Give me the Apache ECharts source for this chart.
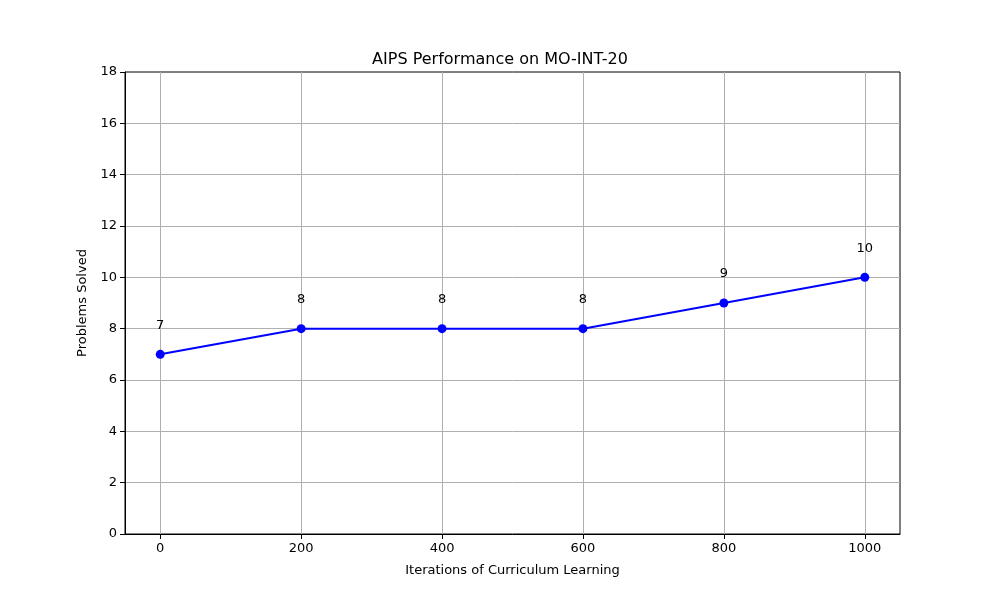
<!DOCTYPE html>
<html><head><meta charset="utf-8">
<script src="https://cdn.jsdelivr.net/npm/echarts@6/dist/echarts.min.js"></script>
<style>html,body{margin:0;padding:0;background:#fff}#c{width:1000px;height:600px}</style>
</head><body><div id="c"></div>
<script>
const iterations = [0, 200, 400, 600, 800, 1000];
const solved = [7, 8, 8, 8, 9, 10];
const xTicks = [0, 200, 400, 600, 800, 1000];
const titleText = 'AIPS Performance on MO-INT-20';
const xName = 'Iterations of Curriculum Learning';
const yName = 'Problems Solved';

const font = 'DejaVu Sans';
const chart = echarts.init(document.getElementById('c'));
chart.setOption({
  backgroundColor: '#fff',
  animation: false,
  title: { text: titleText, left: 'center', top: 47, textStyle: { fontFamily: font, fontSize: 16, fontWeight: 'normal', color: '#000' } },
  grid: { left: 125, right: 100, top: 72, bottom: 66, show: true, borderColor: '#000', borderWidth: 1, backgroundColor: 'transparent' },
  xAxis: {
    type: 'value', min: -50, max: 1050,
    name: xName, nameLocation: 'middle', nameGap: 30,
    nameTextStyle: { fontFamily: font, fontSize: 13, color: '#000' },
    axisLine: { show: true, onZero: false, lineStyle: { color: '#000', width: 1 } },
    axisTick: { show: true, inside: false, length: 5, customValues: xTicks, lineStyle: { color: '#000' } },
    axisLabel: { customValues: xTicks, formatter: v => String(v), fontFamily: font, fontSize: 13, color: '#000', margin: 8 },
    splitLine: { show: true, lineStyle: { color: '#b0b0b0', width: 1 } }
  },
  yAxis: {
    type: 'value', min: 0, max: 18, interval: 2,
    name: yName, nameLocation: 'middle', nameGap: 36, nameRotate: 90,
    nameTextStyle: { fontFamily: font, fontSize: 13, color: '#000' },
    axisLine: { show: true, onZero: false, lineStyle: { color: '#000', width: 1 } },
    axisTick: { show: true, inside: false, length: 5, lineStyle: { color: '#000' } },
    axisLabel: { fontFamily: font, fontSize: 13, color: '#000', margin: 8 },
    splitLine: { show: true, showMinLine: false, showMaxLine: false, lineStyle: { color: '#b0b0b0', width: 1 } }
  },
  series: [{
    type: 'line',
    data: iterations.map((x, i) => [x, solved[i]]),
    symbol: 'circle', symbolSize: 9,
    lineStyle: { color: '#0000ff', width: 2 },
    itemStyle: { color: '#0000ff' },
    label: { show: true, position: 'top', distance: 18, fontFamily: font, fontSize: 13, color: '#000' }
  }]
});
</script></body></html>
